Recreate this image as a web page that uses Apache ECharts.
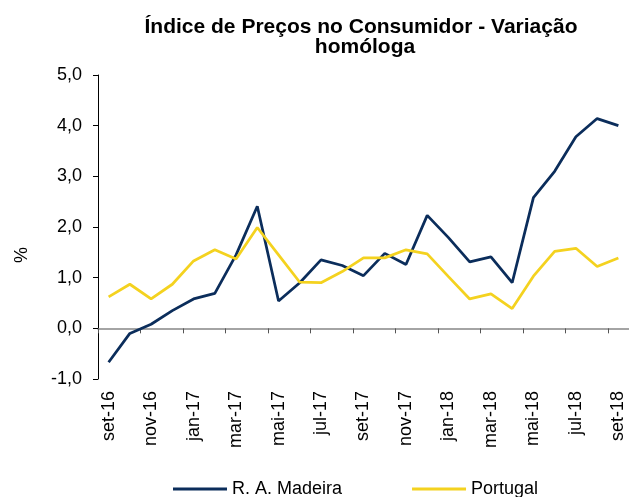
<!DOCTYPE html>
<html>
<head>
<meta charset="utf-8">
<script src="https://cdn.jsdelivr.net/npm/echarts@6/dist/echarts.min.js"></script>
<style>
    html, body { margin: 0; padding: 0; background: #fff; }
    #chart { width: 629px; height: 497px; }
</style>
</head>
<body>
<div id="chart"></div>
<script>
// meses set-16 .. set-18
const months = [
    'set-16', 'out-16', 'nov-16', 'dez-16', 'jan-17', 'fev-17', 'mar-17', 'abr-17',
    'mai-17', 'jun-17', 'jul-17', 'ago-17', 'set-17', 'out-17', 'nov-17', 'dez-17',
    'jan-18', 'fev-18', 'mar-18', 'abr-18', 'mai-18', 'jun-18', 'jul-18', 'ago-18', 'set-18'
];
const madeira = [
    -0.67, -0.10, 0.08, 0.35, 0.58, 0.69, 1.45, 2.41, 0.54, 0.90, 1.35, 1.24, 1.04,
    1.48, 1.26, 2.23, 1.79, 1.31, 1.41, 0.90, 2.58, 3.10, 3.78, 4.14, 4.00
];
const portugal = [
    0.62, 0.87, 0.58, 0.87, 1.33, 1.55, 1.37, 1.99, 1.45, 0.91, 0.90, 1.12, 1.39,
    1.39, 1.55, 1.47, 1.02, 0.58, 0.68, 0.39, 1.03, 1.52, 1.58, 1.22, 1.39
];
const yTicks = { min: -1, max: 5, interval: 1 };

const font = 'Liberation Sans, Arial, sans-serif';
const chart = echarts.init(document.getElementById('chart'));

let option = {
    animation: false,
    textStyle: { fontFamily: font },
    title: [{
        text: 'Índice de Preços no Consumidor - Variação',
        left: 356,
        top: 12,
        textAlign: 'center',
        textStyle: { fontSize: 21, fontWeight: 'bold', color: '#000', fontFamily: font }
    }, {
        text: 'homóloga',
        left: 360,
        top: 32,
        textAlign: 'center',
        textStyle: { fontSize: 21, fontWeight: 'bold', color: '#000', fontFamily: font }
    }],
    legend: {
        left: 168,
        top: 475,
        itemWidth: 54,
        itemHeight: 3,
        itemGap: 70,
        icon: 'rect',
        textStyle: { fontSize: 18, color: '#000', fontFamily: font },
        data: ['R. A. Madeira', 'Portugal']
    },
    graphic: [{
        type: 'text',
        left: 13,
        top: 247,
        rotation: Math.PI / 2,
        style: { text: '%', fontSize: 18, fill: '#000', fontFamily: font }
    }],
    grid: {
        left: 98,
        right: 0,
        top: 75,
        bottom: 118
    },
    xAxis: [{
        type: 'category',
        data: months,
        boundaryGap: true,
        axisLine: { show: true, onZero: true, lineStyle: { color: '#868686', width: 1.5 } },
        axisTick: { show: true, interval: 1, length: 5, lineStyle: { color: '#555', width: 1 } },
        axisLabel: { show: false, interval: 1 },
        splitLine: { show: false }
    }, {
        type: 'category',
        data: months,
        position: 'bottom',
        boundaryGap: true,
        axisLine: { show: false, onZero: false },
        axisTick: { show: false },
        axisLabel: {
            interval: 1,
            rotate: 90,
            margin: 12,
            fontSize: 18,
            color: '#000',
            fontFamily: font
        },
        splitLine: { show: false }
    }],
    yAxis: {
        type: 'value',
        min: yTicks.min,
        max: yTicks.max,
        interval: yTicks.interval,
        axisLine: { show: true, lineStyle: { color: '#000', width: 1 } },
        axisTick: { show: true, inside: false, length: 5, lineStyle: { color: '#000' } },
        axisLabel: {
            margin: 16,
            fontSize: 18,
            color: '#000',
            fontFamily: font,
            formatter: v => v.toFixed(1).replace('.', ',')
        },
        splitLine: { show: false }
    },
    series: [{
        name: 'R. A. Madeira',
        type: 'line',
        xAxisIndex: 0,
        symbol: 'none',
        lineStyle: { color: '#0b2d5b', width: 2.75 },
        itemStyle: { color: '#0b2d5b' },
        data: madeira
    }, {
        name: 'Portugal',
        type: 'line',
        xAxisIndex: 0,
        symbol: 'none',
        lineStyle: { color: '#f4d21f', width: 2.75 },
        itemStyle: { color: '#f4d21f' },
        data: portugal
    }]
};

chart.setOption(option);
</script>
</body>
</html>
